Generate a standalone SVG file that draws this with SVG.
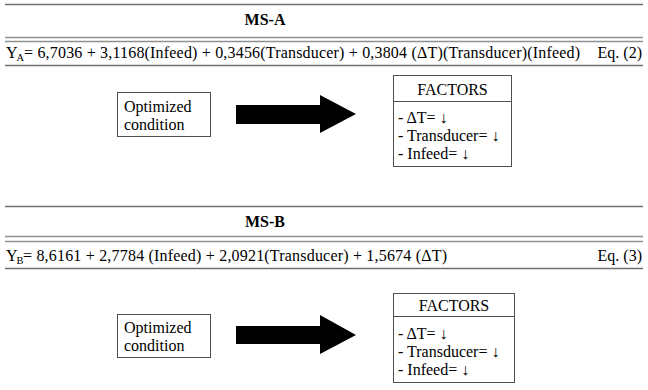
<svg xmlns="http://www.w3.org/2000/svg" width="648" height="390" viewBox="0 0 648 390" font-family="Liberation Serif, Times New Roman, serif">
<style>
text{font-family:'Liberation Serif','Times New Roman',serif;fill:#000;font-size:16px}
.b{font-weight:bold}
.sub{font-size:10.5px}
.rule{stroke:#707070;stroke-width:1.5;fill:none}
.rule2{stroke:#909090;stroke-width:1.5;fill:none}
.box{fill:#fff;stroke:#505050;stroke-width:1}
.arrow{fill:#000}
</style>
<g id="table-a">
<line class="rule" x1="5" y1="4.5" x2="643" y2="4.5"/>
<text class="b" x="265" y="24.5" text-anchor="middle">MS-A</text>
<line class="rule2" x1="5" y1="37.5" x2="643" y2="37.5"/>
<line class="rule2" x1="5" y1="41.5" x2="643" y2="41.5"/>
<text x="6" y="57.5">Y</text><text class="sub" x="16.5" y="60.5">A</text>
<text x="24" y="57.5" textLength="556" lengthAdjust="spacing">= 6,7036 + 3,1168(Infeed) + 0,3456(Transducer) + 0,3804 (ΔT)(Transducer)(Infeed)</text>
<text x="642" y="57.5" text-anchor="end">Eq. (2)</text>
<line class="rule" x1="5" y1="65.5" x2="643" y2="65.5"/>
</g>
<g id="opt-a">
<rect class="box" x="117.5" y="92.5" width="93" height="44"/>
<text x="124" y="112">Optimized</text>
<text x="124" y="130">condition</text>
</g>
<g id="factors-a">
<rect class="box" x="393.5" y="75.5" width="118" height="91"/>
<line class="box" x1="393.5" y1="101.5" x2="511.5" y2="101.5"/>
<text x="452.5" y="95" text-anchor="middle">FACTORS</text>
<text x="398" y="123">- ΔT= ↓</text>
<text x="398" y="141">- Transducer= ↓</text>
<text x="398" y="159">- Infeed= ↓</text>
</g>
<g id="table-b">
<line class="rule" x1="5" y1="206.5" x2="643" y2="206.5"/>
<text class="b" x="265" y="226.5" text-anchor="middle">MS-B</text>
<line class="rule2" x1="5" y1="236.5" x2="643" y2="236.5"/>
<line class="rule2" x1="5" y1="241.5" x2="643" y2="241.5"/>
<text x="6" y="261">Y</text><text class="sub" x="16.5" y="264">B</text>
<text x="23" y="261" textLength="424" lengthAdjust="spacing">= 8,6161 + 2,7784 (Infeed) + 2,0921(Transducer) + 1,5674 (ΔT)</text>
<text x="642" y="261" text-anchor="end">Eq. (3)</text>
<line class="rule" x1="5" y1="268.5" x2="643" y2="268.5"/>
</g>
<g id="opt-b">
<rect class="box" x="117.5" y="314.5" width="93" height="43"/>
<text x="124" y="333">Optimized</text>
<text x="124" y="351">condition</text>
</g>
<g id="factors-b">
<rect class="box" x="393.5" y="293.5" width="121" height="89"/>
<line class="box" x1="393.5" y1="316.5" x2="514.5" y2="316.5"/>
<text x="454" y="311" text-anchor="middle">FACTORS</text>
<text x="398" y="339">- ΔT= ↓</text>
<text x="398" y="357">- Transducer= ↓</text>
<text x="398" y="375">- Infeed= ↓</text>
</g>
<g id="connectors">
<polygon class="arrow" points="236,105 320,105 320,95 356,114 320,133 320,124 236,124"/>
<polygon class="arrow" points="236,326 320,326 320,315 356,335 320,354 320,344 236,344"/>
</g>
</svg>
